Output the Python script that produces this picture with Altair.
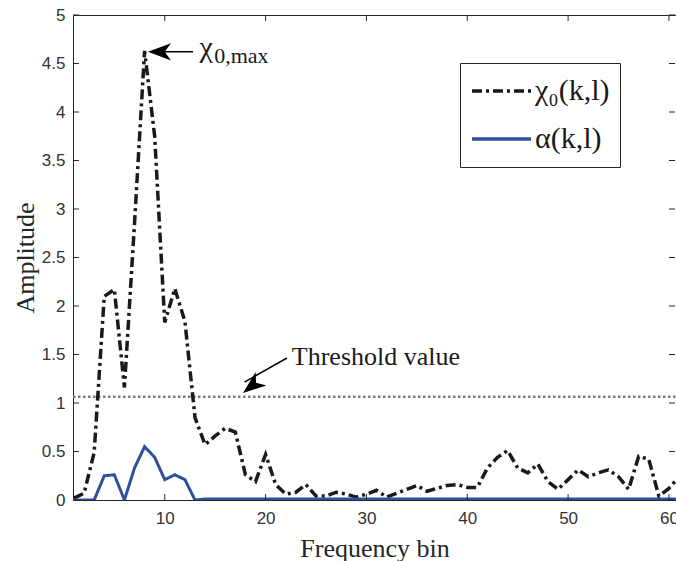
import altair as alt
import pandas as pd

# ---- data ----
bins = list(range(1, 62))
chi0 = [0.02, 0.07, 0.49, 2.10, 2.17, 1.16, 2.85, 4.63, 3.75, 1.83,
        2.18, 1.84, 0.85, 0.57, 0.66, 0.74, 0.70, 0.26, 0.19, 0.47,
        0.16, 0.06, 0.08, 0.16, 0.04, 0.04, 0.08, 0.06, 0.03, 0.06,
        0.10, 0.03, 0.07, 0.11, 0.15, 0.09, 0.12, 0.15, 0.16, 0.13,
        0.13, 0.33, 0.44, 0.51, 0.33, 0.28, 0.37, 0.19, 0.11, 0.21,
        0.31, 0.24, 0.28, 0.31, 0.24, 0.11, 0.45, 0.42, 0.04, 0.12,
        0.24]
alpha = [0.0, 0.0, 0.0, 0.25, 0.26, 0.0, 0.33, 0.55, 0.44, 0.21,
         0.26, 0.21, 0.0] + [0.01] * 48
threshold = 1.065
series_names = ["χ₀(k,l)", "α(k,l)"]
series_colors = ["#1a1a1a", "#2f4f9f"]
series_dash = [[10, 4, 3, 4], [1, 0]]
x_ticks = [10, 20, 30, 40, 50, 60]
y_ticks = [0, 0.5, 1, 1.5, 2, 2.5, 3, 3.5, 4, 4.5, 5]
x_domain = [0.9, 60.7]
y_domain = [0, 5]

W, H = 603, 485
SERIF = "Liberation Serif"
SANS = "Liberation Sans"
INK = "#262626"

df = pd.DataFrame({
    "bin": bins * 2,
    "value": chi0 + alpha,
    "series": [series_names[0]] * len(bins) + [series_names[1]] * len(bins),
})

xs = alt.Scale(domain=x_domain, nice=False, zero=False)
ys = alt.Scale(domain=y_domain, nice=False)
color = alt.Color("series:N", scale=alt.Scale(domain=series_names, range=series_colors),
                  legend=alt.Legend(title=None))
dash = alt.StrokeDash("series:N", scale=alt.Scale(domain=series_names, range=series_dash),
                      legend=alt.Legend(title=None))

x_axis = alt.Axis(values=x_ticks, ticks=False, domain=False, grid=False,
                  labelFont=SANS, labelFontSize=17, labelColor="#333333", labelPadding=10,
                  title="Frequency bin", titleFont=SERIF, titleFontSize=26,
                  titleFontWeight="normal", titleColor=INK, titleBaseline="alphabetic",
                  titleY=56)
y_axis = alt.Axis(values=y_ticks, ticks=False, domain=False, grid=False, format="~g",
                  labelFont=SANS, labelFontSize=17, labelColor="#333333", labelPadding=8,
                  title="Amplitude", titleFont=SERIF, titleFontSize=26,
                  titleFontWeight="normal", titleColor=INK, titleBaseline="alphabetic",
                  titleX=-40)

# threshold line
thr = alt.Chart(pd.DataFrame({"t": [threshold]})).mark_rule(
    color="#7a7a7a", strokeWidth=2.5, strokeDash=[2.5, 2.5]
).encode(y=alt.Y("t:Q", scale=ys, axis=y_axis), x=alt.value(0), x2=alt.value(W))

line_chi = alt.Chart(df).transform_filter(
    alt.datum.series == series_names[0]
).mark_line(strokeWidth=3.5, clip=True).encode(
    x=alt.X("bin:Q", scale=xs, axis=x_axis),
    y=alt.Y("value:Q", scale=ys, axis=y_axis),
    color=color, strokeDash=dash,
)
line_alpha = alt.Chart(df).transform_filter(
    alt.datum.series == series_names[1]
).mark_line(strokeWidth=3, clip=True).encode(
    x=alt.X("bin:Q", scale=xs), y=alt.Y("value:Q", scale=ys),
    color=color, strokeDash=dash,
)

# inward ticks on all four sides
xt = pd.DataFrame({"v": x_ticks})
yt = pd.DataFrame({"v": y_ticks})
tick_kw = dict(color=INK, strokeWidth=1)
t_bottom = alt.Chart(xt).mark_rule(**tick_kw).encode(
    x=alt.X("v:Q", scale=xs), y=alt.value(H), y2=alt.value(H - 6))
t_top = alt.Chart(xt).mark_rule(**tick_kw).encode(
    x=alt.X("v:Q", scale=xs), y=alt.value(0), y2=alt.value(6))
t_left = alt.Chart(yt).mark_rule(**tick_kw).encode(
    y=alt.Y("v:Q", scale=ys), x=alt.value(0), x2=alt.value(6))
t_right = alt.Chart(yt).mark_rule(**tick_kw).encode(
    y=alt.Y("v:Q", scale=ys), x=alt.value(W - 1), x2=alt.value(W - 7))

# annotations
arrows = pd.DataFrame({
    "x0": [12.8, 22.12], "y0": [4.62, 1.464],
    "x1": [8.6, 17.9], "y1": [4.62, 1.215],
})
arrow_lines = alt.Chart(arrows).mark_rule(color="black", strokeWidth=1.5).encode(
    x=alt.X("x0:Q", scale=xs), y=alt.Y("y0:Q", scale=ys),
    x2="x1:Q", y2="y1:Q")
heads = pd.DataFrame({"x": [8.34, 17.76], "y": [4.62, 1.103], "a": [270, 231.5]})
head_shape = "M0,0 L-0.75,2 L0,1.45 L0.75,2 Z"
arrow_heads = alt.Chart(heads).mark_point(
    shape=head_shape, size=529, filled=True, color="black", opacity=1
).encode(x=alt.X("x:Q", scale=xs), y=alt.Y("y:Q", scale=ys), angle=alt.Angle("a:Q", scale=None))

labels_big = pd.DataFrame({"x": [13.45, 22.6], "y": [4.57, 1.392],
                           "txt": ["χ", "Threshold value"], "fs": [30, 26]})
txt_big = alt.Chart(labels_big).mark_text(
    align="left", baseline="alphabetic", font=SERIF, color="#1a1a1a"
).encode(x=alt.X("x:Q", scale=xs), y=alt.Y("y:Q", scale=ys), text="txt:N",
         size=alt.Size("fs:Q", scale=None))
labels_sub = pd.DataFrame({"x": [14.9], "y": [4.505], "txt": ["0,max"]})
txt_sub = alt.Chart(labels_sub).mark_text(
    align="left", baseline="alphabetic", font=SERIF, fontSize=22, color="#1a1a1a"
).encode(x=alt.X("x:Q", scale=xs), y=alt.Y("y:Q", scale=ys), text="txt:N")

chart = alt.layer(
    thr, line_chi, line_alpha, t_bottom, t_top, t_left, t_right,
    arrow_lines, arrow_heads, txt_big, txt_sub,
).properties(
    width=W, height=H,
    autosize=alt.AutoSizeParams(type="none"),
    padding={"left": 73, "top": 15, "right": 0, "bottom": 61},
    background="white",
).configure_view(
    stroke=INK, strokeWidth=1
).configure_legend(
    orient="none", legendX=387, legendY=48,
    strokeColor=INK, fillColor="white", padding=10, cornerRadius=0,
    labelFont=SERIF, labelFontSize=30, labelColor="#1a1a1a", labelOffset=2,
    symbolType="stroke", symbolSize=3481, symbolStrokeWidth=3.5,
    clipHeight=36, rowPadding=12, labelLimit=300,
)

chart.save("out.html", embed_options={"renderer": "svg", "actions": False})
